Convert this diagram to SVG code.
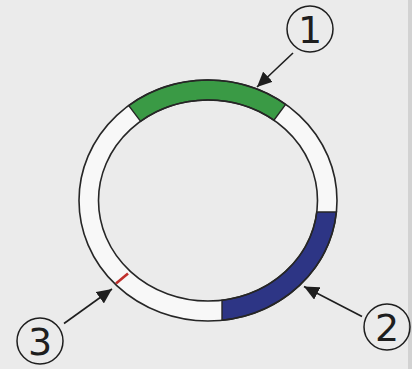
<svg xmlns="http://www.w3.org/2000/svg" width="412" height="369" viewBox="0 0 412 369">
<style>
.ol{fill:none;stroke:#262626;stroke-width:1.6}
.seg{stroke:#262626;stroke-width:1.4}
.arr{stroke:#1e1e1e;stroke-width:1.6;fill:none}
.circ{fill:none;stroke:#1e1e1e;stroke-width:1.5}
.lab{font-family:"DejaVu Sans","Noto Sans",sans-serif;font-size:38px;fill:#1e1e1e;text-anchor:middle}
</style>
<defs>
<marker id="ah" markerUnits="userSpaceOnUse" markerWidth="16" markerHeight="14" refX="15" refY="7" orient="auto">
<path d="M0,0 L15,7 L0,14 Z" fill="#1e1e1e"/>
</marker>
</defs>
<rect width="412" height="369" fill="#ebebeb"/>
<rect x="408" y="0" width="4" height="369" fill="#d2d2d2"/>
<g id="ring">
<path d="M79,200.5 a129,120.5 0 1,0 258,0 a129,120.5 0 1,0 -258,0 Z M98.5,200.5 a109.5,100.5 0 1,0 219,0 a109.5,100.5 0 1,0 -219,0 Z" fill="#f8f8f8" fill-rule="evenodd"/>
</g>
<g id="segment1">
<path class="seg" fill="#3a9a45" d="M128.6,105.5 A129,120.5 0 0 1 285.6,104.3 L273.9,120.2 A109.5,100.5 0 0 0 140.6,121.3 Z"/>
</g>
<g id="segment2">
<path class="seg" fill="#2d3585" d="M336.4,212 A129,120.5 0 0 1 222,320.3 L222,300.2 A109.5,100.5 0 0 0 316.8,212 Z"/>
</g>
<g id="segment3">
<line x1="116" y1="283.5" x2="128" y2="273.5" stroke="#c0302c" stroke-width="2.6"/>
</g>
<g id="outline">
<ellipse class="ol" cx="208" cy="200.5" rx="129" ry="120.5"/>
<ellipse class="ol" cx="208" cy="200.5" rx="109.5" ry="100.5"/>
</g>
<g id="connectors">
<line class="arr" x1="293" y1="53" x2="257" y2="87" marker-end="url(#ah)"/>
<line class="arr" x1="362" y1="316.5" x2="304" y2="286.5" marker-end="url(#ah)"/>
<line class="arr" x1="64" y1="323.5" x2="112" y2="289" marker-end="url(#ah)"/>
</g>
<g id="label1"><circle class="circ" cx="310" cy="29" r="23"/><text class="lab" x="310" y="43">1</text></g>
<g id="label2"><circle class="circ" cx="387" cy="327" r="23"/><text class="lab" x="387" y="341">2</text></g>
<g id="label3"><circle class="circ" cx="40" cy="341" r="23"/><text class="lab" x="40" y="355">3</text></g>
</svg>
